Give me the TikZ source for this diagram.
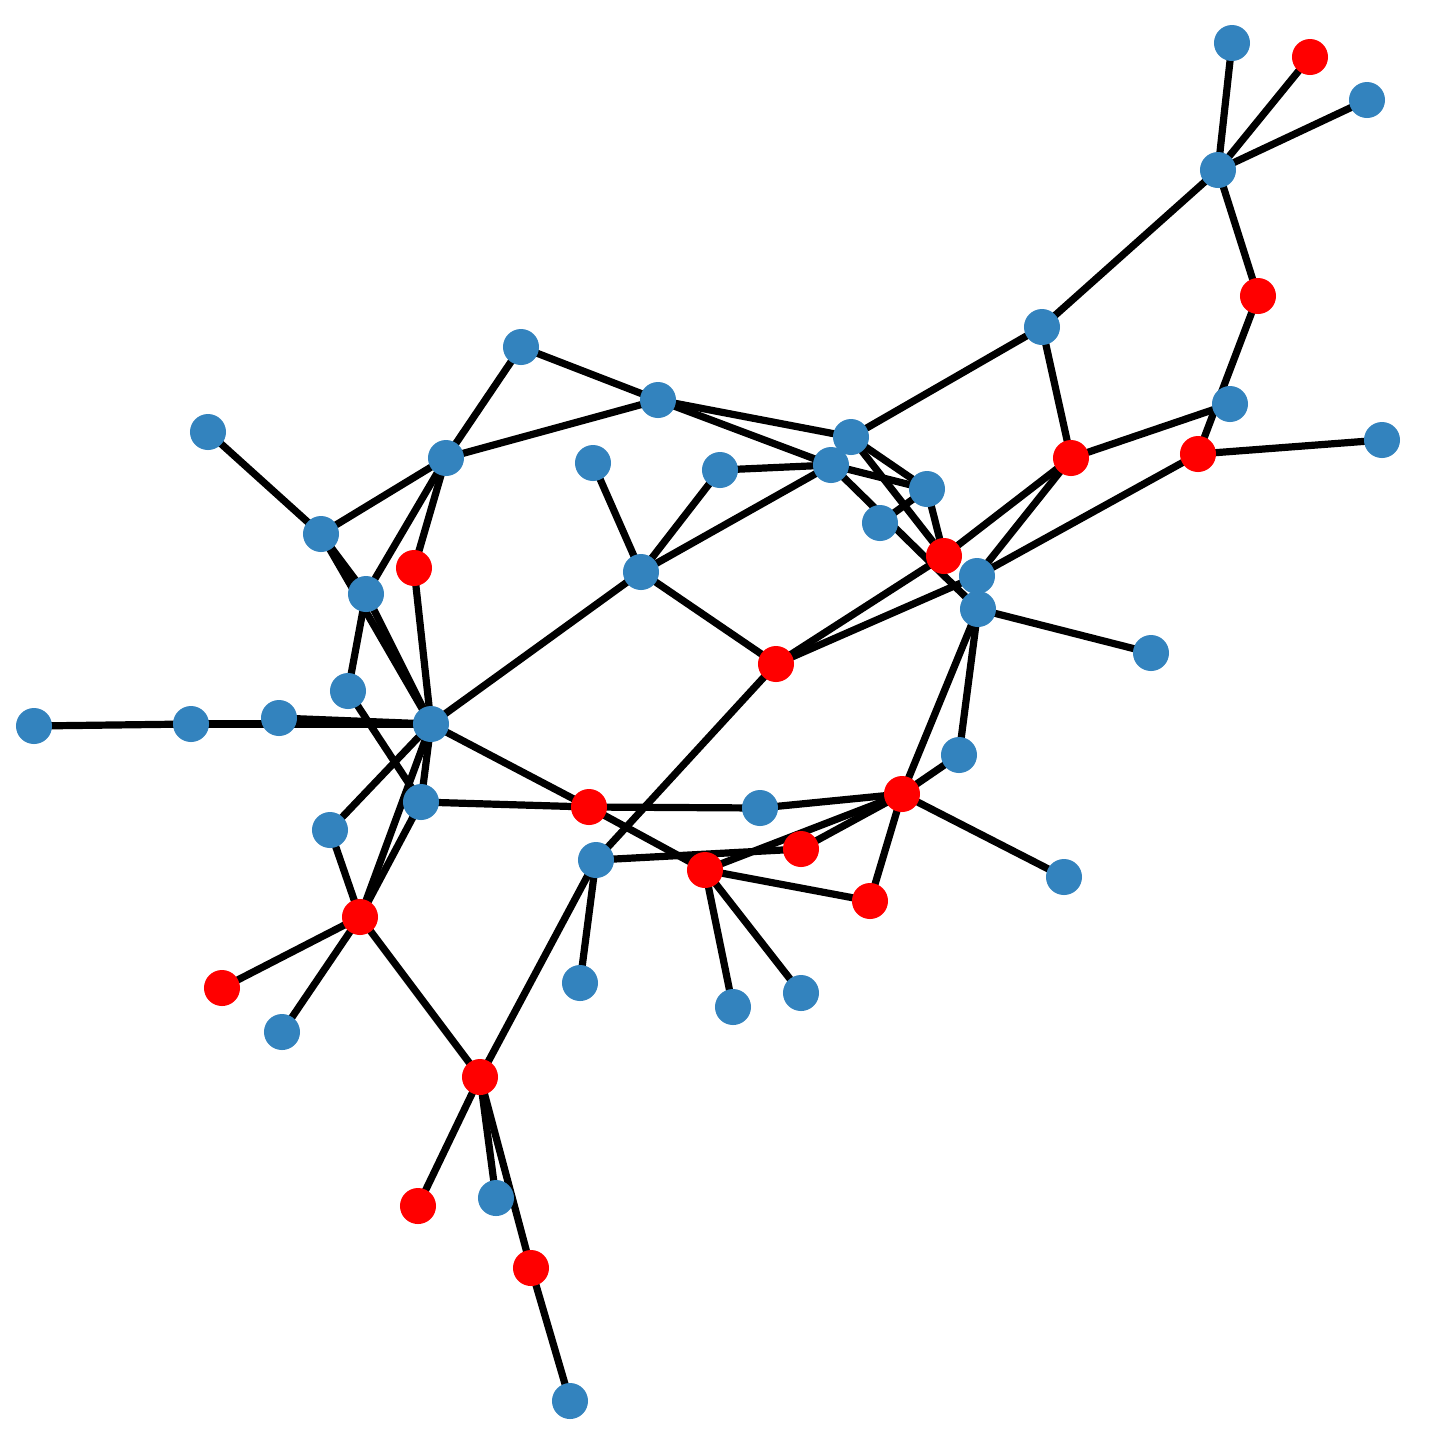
\documentclass[tikz,border=0pt]{standalone}
\usetikzlibrary{backgrounds}
\definecolor{nblue}{RGB}{51,131,190}
\definecolor{nred}{RGB}{255,0,0}
\tikzset{
  bn/.style={circle,fill=nblue,inner sep=0pt,minimum size=0.36cm},
  rn/.style={circle,fill=nred,inner sep=0pt,minimum size=0.36cm},
  ed/.style={line width=0.072cm,black}
}
\begin{document}
\begin{tikzpicture}[x=0.01cm,y=-0.01cm]
\useasboundingbox (0,0) rectangle (1434,1444);
\node[bn] (n1) at (1232,43) {};
\node[rn] (n2) at (1310,57) {};
\node[bn] (n3) at (1367,100) {};
\node[bn] (n4) at (1218,170) {};
\node[rn] (n5) at (1258,296) {};
\node[bn] (n6) at (1042,327) {};
\node[bn] (n7) at (521,347) {};
\node[bn] (n8) at (658,400) {};
\node[bn] (n9) at (1230,404) {};
\node[bn] (n10) at (208,432) {};
\node[bn] (n11) at (1382,440) {};
\node[bn] (n12) at (851,437) {};
\node[rn] (n13) at (1198,454) {};
\node[rn] (n14) at (1071,458) {};
\node[bn] (n15) at (446,458) {};
\node[bn] (n16) at (593,463) {};
\node[bn] (n17) at (720,470) {};
\node[bn] (n18) at (831,465) {};
\node[bn] (n19) at (927,489) {};
\node[bn] (n20) at (880,523) {};
\node[bn] (n21) at (321,534) {};
\node[rn] (n22) at (944,556) {};
\node[rn] (n23) at (414,568) {};
\node[bn] (n24) at (977,576) {};
\node[bn] (n25) at (641,572) {};
\node[bn] (n26) at (366,594) {};
\node[bn] (n27) at (978,609) {};
\node[bn] (n28) at (1151,653) {};
\node[rn] (n29) at (776,664) {};
\node[bn] (n30) at (348,691) {};
\node[bn] (n31) at (34,726) {};
\node[bn] (n32) at (191,724) {};
\node[bn] (n33) at (279,718) {};
\node[bn] (n34) at (431,724) {};
\node[bn] (n35) at (959,755) {};
\node[rn] (n36) at (902,794) {};
\node[bn] (n37) at (421,802) {};
\node[rn] (n38) at (589,807) {};
\node[bn] (n39) at (760,808) {};
\node[bn] (n40) at (330,830) {};
\node[rn] (n41) at (801,849) {};
\node[bn] (n42) at (596,860) {};
\node[rn] (n43) at (705,870) {};
\node[rn] (n44) at (870,901) {};
\node[bn] (n45) at (1064,877) {};
\node[rn] (n46) at (360,917) {};
\node[rn] (n47) at (222,988) {};
\node[bn] (n48) at (580,983) {};
\node[bn] (n49) at (733,1007) {};
\node[bn] (n50) at (801,993) {};
\node[bn] (n51) at (282,1032) {};
\node[rn] (n52) at (480,1077) {};
\node[rn] (n53) at (418,1206) {};
\node[bn] (n54) at (496,1198) {};
\node[rn] (n55) at (531,1268) {};
\node[bn] (n56) at (570,1401) {};
\begin{scope}[on background layer]
\foreach \a/\b in {
  n4/n1, n4/n2, n4/n3, n4/n5, n4/n6, n5/n13, n9/n14, n13/n11,
  n13/n24, n14/n24, n14/n22, n6/n14, n6/n12,
  n7/n15, n7/n8, n8/n18, n8/n12, n8/n15,
  n12/n19, n12/n22, n18/n19, n18/n27, n18/n17, n18/n25, n20/n19, n19/n22,
  n22/n29, n24/n29, n27/n35, n27/n36, n27/n28, n36/n35,
  n15/n21, n15/n23, n15/n26, n21/n10, n21/n26, n21/n34, n26/n34, n26/n30,
  n23/n34, n34/n25, n34/n33, n32/n34, n31/n32, n34/n40, n34/n46, n34/n37,
  n46/n37, n30/n37, n40/n46, n46/n47, n46/n51, n46/n52,
  n52/n42, n52/n53, n52/n54, n52/n55, n55/n56,
  n34/n38, n38/n43, n37/n38, n38/n39, n39/n36,
  n42/n41, n42/n48, n42/n29, n36/n41, n36/n43, n43/n44, n43/n49, n43/n50,
  n36/n44, n36/n45, n25/n16, n25/n17, n25/n29}
  \draw[ed] (\a.center) -- (\b.center);
\end{scope}
\end{tikzpicture}
\end{document}
